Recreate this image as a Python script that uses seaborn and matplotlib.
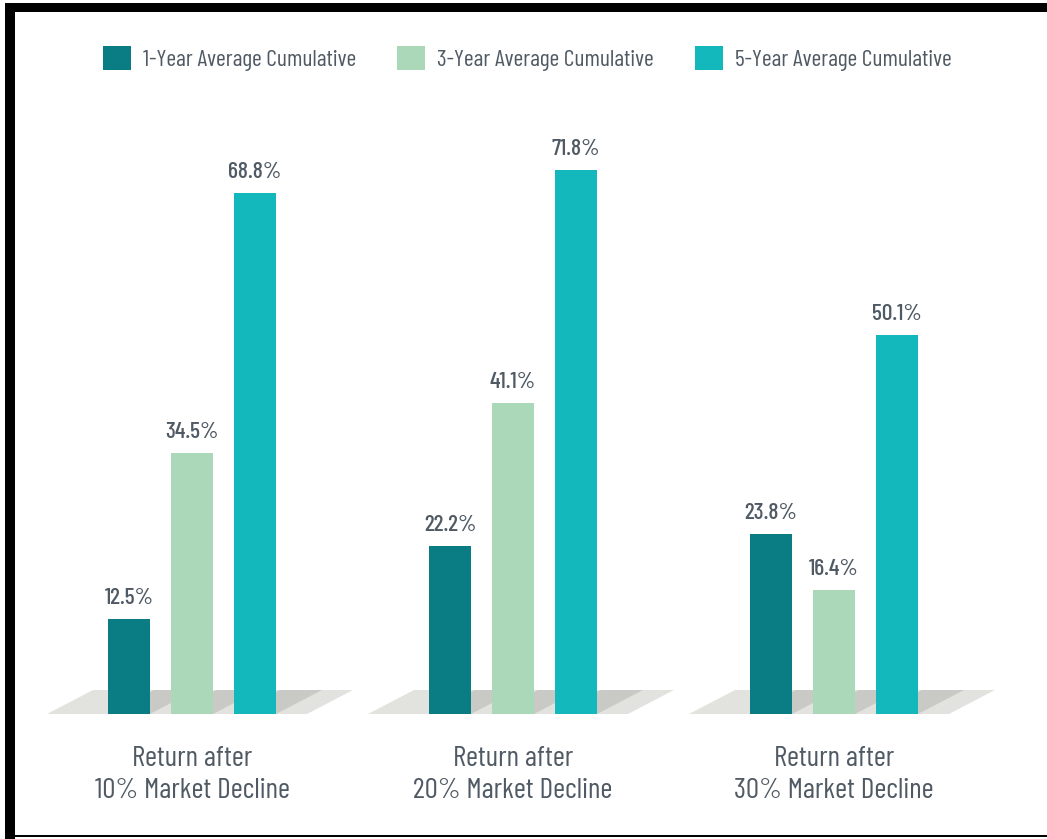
import numpy as np
import pandas as pd
import matplotlib
matplotlib.use("Agg")
import matplotlib.pyplot as plt
from matplotlib.patches import Polygon, Rectangle
import seaborn as sns

# data
declines = ["Return after\n10% Market Decline",
            "Return after\n20% Market Decline",
            "Return after\n30% Market Decline"]
periods = ["1-Year Average Cumulative",
           "3-Year Average Cumulative",
           "5-Year Average Cumulative"]
one_year = [12.5, 22.2, 23.8]
three_year = [34.5, 41.1, 16.4]
five_year = [68.8, 71.8, 50.1]

colors = ["#0a7d84", "#aad8b8", "#13b8bd"]
text_col = "#505a64"

df = pd.DataFrame({
    "decline": declines * 3,
    "period": np.repeat(periods, 3),
    "value": one_year + three_year + five_year,
})

sns.set_theme(style="white")
plt.rcParams["font.family"] = ["Barlow Condensed", "DejaVu Sans"]

W, H = 1047, 839
fig = plt.figure(figsize=(W / 100, H / 100), dpi=100)

px_x = 321.0          # pixels per category
px_y = 7.57           # pixels per percent
x0_px, base_px = 192, 714
# axes bottom sits on the bars' baseline
ax = fig.add_axes([0, (H - base_px) / H, 1, base_px / H])
ax.patch.set_alpha(0)

sns.barplot(data=df, x="decline", y="value", hue="period", palette=colors,
            saturation=1, width=0.589, gap=0.333, linewidth=0, ax=ax,
            zorder=3)
ax.set_xlim(-x0_px / px_x, (W - x0_px) / px_x)
ax.set_ylim(0, base_px / px_y)

ux, uy = 1 / px_x, 1 / px_y
slant, depth = 46 * ux, 24 * uy

# floor under each group
for i in range(len(declines)):
    floor = Polygon([(i - 145 * ux, 0), (i + 115 * ux, 0),
                     (i + 161 * ux, depth), (i - 99 * ux, depth)],
                    closed=True, facecolor="#e2e2de", edgecolor="none", zorder=1)
    ax.add_patch(floor)

# shadow of each bar on the floor
for bar in list(ax.patches):
    if not isinstance(bar, Rectangle) or bar.get_height() <= 0:
        continue
    bx, bw = bar.get_x(), bar.get_width()
    sh = Polygon([(bx, 0), (bx + bw, 0), (bx + bw + slant, depth), (bx + slant, depth)],
                 closed=True, facecolor="#c9c9c6", edgecolor="none", zorder=2)
    ax.add_patch(sh)

for cont in ax.containers:
    ax.bar_label(cont, labels=[f"{v:.1f}%" for v in cont.datavalues],
                 padding=8, fontsize=17, fontweight="medium", color=text_col)

ax.tick_params(axis="x", length=0, pad=23, labelsize=21, labelcolor=text_col)
ax.set_yticks([])
ax.set_xlabel("")
ax.set_ylabel("")
for s in ax.spines.values():
    s.set_visible(False)
for lab in ax.get_xticklabels():
    lab.set_linespacing(1.3)

leg_fs = 17
sns.move_legend(ax, "upper left", bbox_to_anchor=(103 / W, 1 - 46 / H),
                bbox_transform=fig.transFigure, ncol=3, frameon=False, title=None,
                fontsize=leg_fs, handlelength=20.2 / leg_fs, handleheight=20.2 / leg_fs,
                handletextpad=0.5, columnspacing=1.75, borderpad=0,
                borderaxespad=0, labelcolor=text_col)

# black frame on top, left and bottom
fig.add_artist(Rectangle((5 / W, 1 - 12 / H), 1, 9 / H, transform=fig.transFigure,
                         facecolor="black", edgecolor="none"))
fig.add_artist(Rectangle((5 / W, 0), 10 / W, 1 - 3 / H, transform=fig.transFigure,
                         facecolor="black", edgecolor="none"))
fig.add_artist(Rectangle((5 / W, 2 / H), 1, 2 / H, transform=fig.transFigure,
                         facecolor="black", edgecolor="none"))

fig.savefig("out.png", dpi=100, facecolor="white")
